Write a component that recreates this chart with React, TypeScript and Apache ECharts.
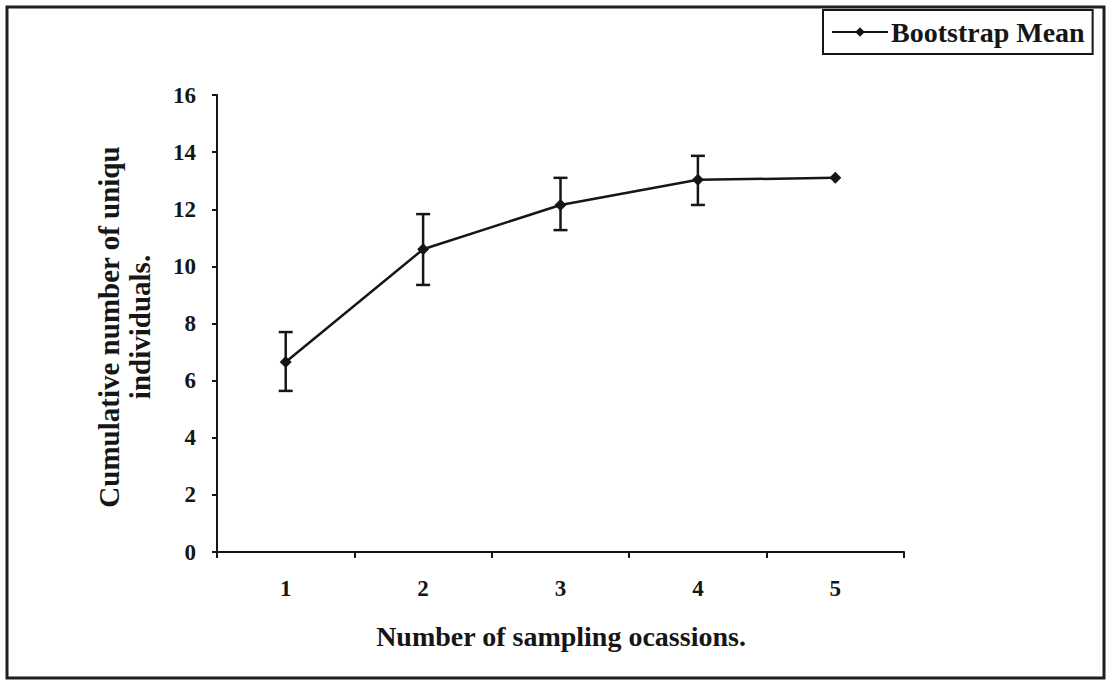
import React, { useEffect, useRef } from "react";
import * as echarts from "echarts";

const categories = ["1", "2", "3", "4", "5"];
const meanValues = [6.65, 10.6, 12.15, 13.03, 13.1];
const upperValues: (number | null)[] = [7.7, 11.83, 13.1, 13.87, null];
const lowerValues: (number | null)[] = [5.64, 9.35, 11.27, 12.15, null];
const yTicks = { min: 0, max: 16, interval: 2 };
const seriesName = "Bootstrap Mean";
const xTitle = "Number of sampling ocassions.";
const yTitle = "Cumulative number of uniqu\nindividuals.";

const FONT = "'Liberation Serif', 'Times New Roman', serif";
const INK = "#161616";

export default function App() {
  const ref = useRef<HTMLDivElement>(null);
  useEffect(() => {
    if (!ref.current) return;
    const chart = echarts.init(ref.current, null, { renderer: "svg" });
    const errData: number[][] = [];
    categories.forEach((_, i) => {
      const lo = lowerValues[i];
      const hi = upperValues[i];
      if (lo != null && hi != null) errData.push([i, lo, hi]);
    });
    chart.setOption({
      animation: false,
      backgroundColor: "#ffffff",
      grid: { left: 217, right: 206, top: 95, bottom: 130 },
      legend: {
        data: [seriesName],
        left: 823,
        top: 10,
        padding: [8, 8, 8, 8],
        borderColor: INK,
        borderWidth: 2,
        itemWidth: 56,
        itemHeight: 12,
        itemGap: 0,
        textStyle: { fontFamily: FONT, fontWeight: "bold", fontSize: 28, color: INK, padding: [0, 0, 0, -2] },
      },
      xAxis: {
        type: "category",
        data: categories,
        boundaryGap: true,
        axisLine: { lineStyle: { color: INK, width: 2 } },
        axisTick: { show: true, length: 6, lineStyle: { color: INK, width: 2 } },
        axisLabel: { fontFamily: FONT, fontWeight: "bold", fontSize: 23, color: INK, margin: 25 },
        splitLine: { show: false },
      },
      yAxis: {
        type: "value",
        min: yTicks.min,
        max: yTicks.max,
        interval: yTicks.interval,
        axisLine: { show: true, lineStyle: { color: INK, width: 2 } },
        axisTick: { show: true, length: 5, lineStyle: { color: INK, width: 2 } },
        axisLabel: { fontFamily: FONT, fontWeight: "bold", fontSize: 23, color: INK, margin: 21 },
        splitLine: { show: false },
      },
      graphic: [
        {
          type: "rect",
          shape: { x: 7, y: 7, width: 1097, height: 671 },
          style: { fill: "none", stroke: "#1e1e1e", lineWidth: 3 },
          silent: true,
        },
        {
          type: "text",
          x: 561,
          y: 636,
          style: {
            text: xTitle,
            fontFamily: FONT,
            fontWeight: "bold",
            fontSize: 28,
            fill: INK,
            textAlign: "center",
            textVerticalAlign: "middle",
          },
        },
        {
          type: "text",
          x: 124,
          y: 327,
          rotation: Math.PI / 2,
          style: {
            text: yTitle,
            fontFamily: FONT,
            fontWeight: "bold",
            fontSize: 29,
            lineHeight: 31,
            fill: INK,
            textAlign: "center",
            textVerticalAlign: "middle",
          },
        },
      ],
      series: [
        {
          type: "custom",
          name: "errors",
          data: errData,
          encode: { x: 0, y: [1, 2] },
          z: 2,
          renderItem: (params: any, api: any) => {
            const x = api.value(0);
            const pLo = api.coord([x, api.value(1)]);
            const pHi = api.coord([x, api.value(2)]);
            const half = 7;
            const st = { stroke: INK, lineWidth: 2.5 };
            return {
              type: "group",
              children: [
                { type: "line", shape: { x1: pHi[0], y1: pHi[1], x2: pLo[0], y2: pLo[1] }, style: st },
                { type: "line", shape: { x1: pHi[0] - half, y1: pHi[1], x2: pHi[0] + half, y2: pHi[1] }, style: st },
                { type: "line", shape: { x1: pLo[0] - half, y1: pLo[1], x2: pLo[0] + half, y2: pLo[1] }, style: st },
              ],
            };
          },
        },
        {
          type: "line",
          name: seriesName,
          data: meanValues,
          z: 3,
          symbol: "diamond",
          symbolSize: 12,
          lineStyle: { color: INK, width: 2.5 },
          itemStyle: { color: INK },
        },
      ],
    });
    return () => chart.dispose();
  }, []);
  return (
    <div
      ref={ref}
      style={{ position: "fixed", left: 0, top: 0, width: 1110, height: 682, background: "#fff" }}
    />
  );
}
